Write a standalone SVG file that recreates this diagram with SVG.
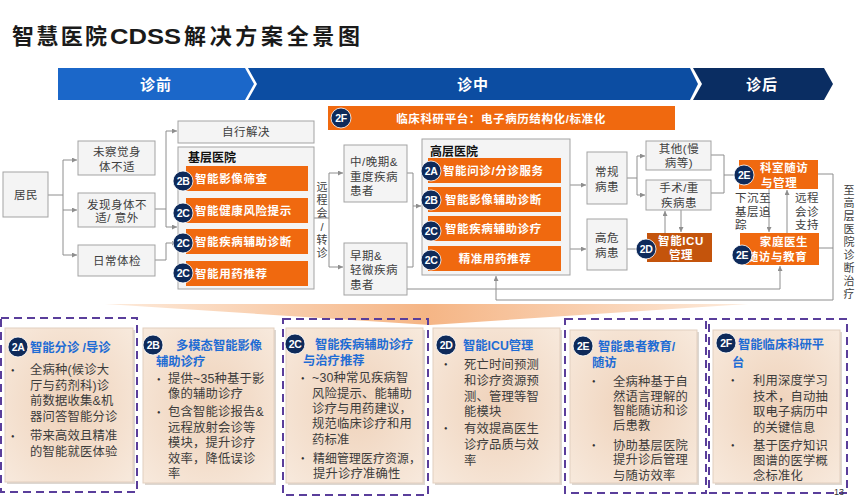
<svg xmlns="http://www.w3.org/2000/svg" width="856" height="500" viewBox="0 0 856 500">
<defs>
<style>
.t{font-family:"Liberation Sans","Noto Sans CJK SC",sans-serif;}
.box{fill:#F4F4F4;stroke:#A3A3A3;stroke-width:1;}
.bt{font-size:11.5px;fill:#404040;letter-spacing:0.5px;}
.bar{fill:#F0690F;}
.bw{font-size:11.5px;fill:#fff;font-weight:bold;letter-spacing:0.6px;}
.cir{fill:#0E2A5A;stroke:#fff;stroke-width:0.8;}
.cl{font-size:10.5px;fill:#fff;font-weight:bold;text-anchor:middle;font-family:"Liberation Sans",sans-serif;letter-spacing:-0.4px;}
.ln{fill:none;stroke:#8E8E8E;stroke-width:1;}
.ar{marker-end:url(#arr);}
.card{fill:url(#cg);stroke:#E2CFBF;stroke-width:1;}
.sh{fill:#CFC6BE;opacity:0.7;}
.ct{font-size:12.3px;fill:#3C3C3C;letter-spacing:0.2px;}
.ch{font-size:12.3px;fill:#1F6CD4;font-weight:bold;}
.bu{font-size:10px;fill:#333;}
.dash{fill:none;stroke:#5A3E9B;stroke-width:2;stroke-dasharray:8 5;}
.ph{font-size:15px;fill:#fff;font-weight:bold;text-anchor:middle;letter-spacing:1px;}
.mid{text-anchor:middle;}
.vt{font-size:11px;fill:#404040;text-anchor:middle;}
.tt{font-size:22px;font-weight:bold;fill:#1a1a1a;}
</style>
<marker id="arr" viewBox="0 0 6 6" refX="6" refY="3" markerWidth="5" markerHeight="5" orient="auto"><path d="M0,0 L6,3 L0,6 z" fill="#8E8E8E"/></marker>
<radialGradient id="cg" cx="0.5" cy="0.5" r="0.75"><stop offset="0" stop-color="#EFD2BA"/><stop offset="1" stop-color="#F8EBDF"/></radialGradient>
<linearGradient id="fg" x1="0" x2="1" y1="0" y2="0"><stop offset="0" stop-color="#FDEBDC"/><stop offset="0.5" stop-color="#F5B585"/><stop offset="1" stop-color="#FDEBDC"/></linearGradient>
</defs>
<rect x="0" y="0" width="856" height="500" fill="#fff"/>

<g id="title">
<text class="t tt" x="12" y="44" textLength="95" lengthAdjust="spacing">智慧医院</text>
<text class="t tt" x="110" y="44" font-size="23" textLength="71" lengthAdjust="spacingAndGlyphs">CDSS</text>
<text class="t tt" x="184" y="44" textLength="176" lengthAdjust="spacing">解决方案全景图</text>
</g>

<g id="phases">
<polygon points="693,68 824,68 833,84 824,100 693,100 702,84" fill="#0A2D62"/>
<polygon points="248,68 690,68 698,84 690,100 248,100 257,84" fill="#0C4DA2"/>
<polygon points="58,68 245,68 254,84 245,100 58,100" fill="#1B67C9"/>
<text class="t ph" x="156" y="90">诊前</text>
<text class="t ph" x="473" y="90">诊中</text>
<text class="t ph" x="762" y="90">诊后</text>
</g>

<g id="n2F">
<rect x="328" y="106" width="347" height="24" class="bar"/>
<circle cx="341" cy="118" r="10" class="cir"/><text class="cl" x="341" y="122">2F</text>
<text class="t bw" x="501" y="122.5" text-anchor="middle">临床科研平台：电子病历结构化/标准化</text>
</g>

<g id="connectors">
<path class="ln" d="M48,195 H63 M63,160 V255"/>
<path class="ln ar" d="M63,160 H77"/>
<path class="ln ar" d="M63,210 H77"/>
<path class="ln ar" d="M63,255 H77"/>
<path class="ln" d="M155,209 H166 M166,131 V227"/>
<path class="ln ar" d="M166,131 H177"/>
<path class="ln ar" d="M166,227 H177"/>
<path class="ln ar" d="M155,260 H166 V243 H177"/>
<path class="ln" d="M314,218 H329 M329,173 V267"/>
<path class="ln ar" d="M329,173 H343"/>
<path class="ln ar" d="M329,267 H343"/>
<path class="ln" d="M407,173 H413 V267 H407"/>
<path class="ln ar" d="M413,206 H421"/>
<path class="ln ar" d="M407,289 H780 V266"/>
<path class="ln ar" d="M570,185 H586"/>
<path class="ln ar" d="M570,249 H586"/>
<path class="ln" d="M627,178 H637 M637,156 V195"/>
<path class="ln ar" d="M637,156 H645"/>
<path class="ln ar" d="M637,195 H645"/>
<path class="ln" d="M711,155 H724 V193 H711 M724,175 H739"/>
<path class="ln" d="M627,249 H647"/>
<path class="ln ar" d="M665,233 V211"/>
<path class="ln ar" d="M681,210 V232"/>
<path class="ln ar" d="M769,189 V232"/>
<path class="ln ar" d="M787,233 V190"/>
<path class="ln ar" d="M818,174 H833 V300 H496 V276"/>
<path class="ln" d="M819,248 H833"/>
</g>

<g id="vlabels">
<text class="t vt" x="322"><tspan x="322" y="191">远</tspan><tspan x="322" y="204">程</tspan><tspan x="322" y="217">会</tspan><tspan x="322" y="231">/</tspan><tspan x="322" y="244">转</tspan><tspan x="322" y="257">诊</tspan></text>
<text class="t vt" x="849"><tspan x="849" y="194">至</tspan><tspan x="849" y="207">高</tspan><tspan x="849" y="220">层</tspan><tspan x="849" y="233">医</tspan><tspan x="849" y="246">院</tspan><tspan x="849" y="259">诊</tspan><tspan x="849" y="272">断</tspan><tspan x="849" y="285">治</tspan><tspan x="849" y="298">疗</tspan></text>
<text class="t bt" x="735" y="202">下沉至</text>
<text class="t bt" x="735" y="216">基层追</text>
<text class="t bt" x="735" y="229">踪</text>
<text class="t bt" x="795" y="202" letter-spacing="5">远程</text>
<text class="t bt" x="795" y="216" letter-spacing="5">会诊</text>
<text class="t bt" x="795" y="229" letter-spacing="5">支持</text>
</g>

<g id="jumin"><rect class="box" x="3" y="172" width="45" height="45"/><text class="t bt mid" x="26" y="199">居民</text></g>
<g id="weichajue"><rect class="box" x="78" y="141" width="77" height="34"/><text class="t bt mid" x="117" y="156">未察觉身</text><text class="t bt mid" x="117" y="171">体不适</text></g>
<g id="faxian"><rect class="box" x="78" y="193" width="77" height="34"/><text class="t bt mid" x="117" y="209">发现身体不</text><text class="t bt mid" x="117" y="222">适/ 意外</text></g>
<g id="richang"><rect class="box" x="78" y="245" width="77" height="31"/><text class="t bt mid" x="117" y="265">日常体检</text></g>
<g id="zixing"><rect class="box" x="178" y="121" width="136" height="22"/><text class="t bt mid" x="246" y="136">自行解决</text></g>

<g id="jiceng">
<rect class="box" x="178" y="147" width="136" height="142"/>
<text class="t" x="188" y="162" font-size="12" font-weight="bold" fill="#111">基层医院</text>
<rect class="bar" x="186" y="166" width="122" height="25"/>
<rect class="bar" x="186" y="198" width="122" height="25"/>
<rect class="bar" x="186" y="229" width="122" height="25"/>
<rect class="bar" x="186" y="261" width="122" height="25"/>
<text class="t bw" x="195" y="183">智能影像筛查</text>
<text class="t bw" x="195" y="215">智能健康风险提示</text>
<text class="t bw" x="195" y="246">智能疾病辅助诊断</text>
<text class="t bw" x="195" y="278">智能用药推荐</text>
<circle cx="183" cy="181" r="10" class="cir"/><text class="cl" x="183" y="185">2B</text>
<circle cx="183" cy="213" r="10" class="cir"/><text class="cl" x="183" y="217">2C</text>
<circle cx="183" cy="243" r="10" class="cir"/><text class="cl" x="183" y="247">2C</text>
<circle cx="183" cy="273" r="10" class="cir"/><text class="cl" x="183" y="277">2C</text>
</g>

<g id="zhongwan"><rect class="box" x="344" y="145" width="63" height="57"/><text class="t bt" x="350" y="166">中/晚期&amp;</text><text class="t bt" x="350" y="181">重度疾病</text><text class="t bt" x="350" y="195">患者</text></g>
<g id="zaoqi"><rect class="box" x="344" y="243" width="63" height="52"/><text class="t bt" x="350" y="260">早期&amp;</text><text class="t bt" x="350" y="274">轻微疾病</text><text class="t bt" x="350" y="289">患者</text></g>

<g id="gaoceng">
<rect class="box" x="422" y="139" width="148" height="136"/>
<text class="t" x="430" y="156" font-size="12" font-weight="bold" fill="#111">高层医院</text>
<rect class="bar" x="428" y="158" width="133" height="25"/>
<rect class="bar" x="428" y="187" width="133" height="25"/>
<rect class="bar" x="428" y="216" width="133" height="25"/>
<rect class="bar" x="428" y="246" width="133" height="25"/>
<text class="t bw" x="443" y="175">智能问诊/分诊服务</text>
<text class="t bw" x="445" y="204">智能影像辅助诊断</text>
<text class="t bw" x="445" y="233">智能疾病辅助诊疗</text>
<text class="t bw" x="495" y="263" text-anchor="middle">精准用药推荐</text>
<circle cx="431" cy="171" r="10" class="cir"/><text class="cl" x="431" y="175">2A</text>
<circle cx="431" cy="200" r="10" class="cir"/><text class="cl" x="431" y="204">2B</text>
<circle cx="431" cy="231" r="10" class="cir"/><text class="cl" x="431" y="235">2C</text>
<circle cx="431" cy="260" r="10" class="cir"/><text class="cl" x="431" y="264">2C</text>
</g>

<g id="changgui"><rect class="box" x="587" y="152" width="40" height="52"/><text class="t bt mid" x="607" y="176">常规</text><text class="t bt mid" x="607" y="191">病患</text></g>
<g id="gaowei"><rect class="box" x="587" y="219" width="40" height="51"/><text class="t bt mid" x="607" y="242">高危</text><text class="t bt mid" x="607" y="257">病患</text></g>
<g id="qita"><rect class="box" x="646" y="141" width="65" height="29"/><text class="t bt mid" x="679" y="153">其他(慢</text><text class="t bt mid" x="679" y="167">病等)</text></g>
<g id="shoushu"><rect class="box" x="646" y="180" width="65" height="30"/><text class="t bt mid" x="679" y="192">手术/重</text><text class="t bt mid" x="679" y="207">疾病患</text></g>
<g id="icu"><rect x="647" y="233" width="65" height="29" fill="#C4540C"/><text class="t bw mid" x="681" y="245">智能ICU</text><text class="t bw mid" x="681" y="259">管理</text><circle cx="646" cy="249" r="10" class="cir"/><text class="cl" x="646" y="253">2D</text></g>
<g id="keshi"><rect class="bar" x="739" y="160" width="79" height="29"/><text class="t bw" x="760" y="172">科室随访</text><text class="t bw" x="761" y="187">与管理</text><circle cx="744" cy="175" r="10" class="cir"/><text class="cl" x="744" y="179">2E</text></g>
<g id="jiating"><rect class="bar" x="740" y="233" width="79" height="32"/><text class="t bw mid" x="784" y="246">家庭医生</text><text class="t bw mid" x="777" y="261">随访与教育</text><circle cx="742" cy="255" r="10" class="cir"/><text class="cl" x="742" y="259">2E</text></g>

<g id="funnel"><polygon points="105,304 748,304 430,325" fill="url(#fg)"/></g>

<g id="dashes">
<rect class="dash" x="1" y="318" width="136" height="174"/>
<rect class="dash" x="283" y="319" width="145" height="176"/>
<rect class="dash" x="565" y="319" width="141" height="174"/>
<rect class="dash" x="709" y="319" width="138" height="174"/>
</g>

<g id="card2A">
<rect class="sh" x="7" y="330" width="128" height="154"/><rect class="card" x="5" y="328" width="128" height="154"/>
<circle cx="18" cy="347" r="10" class="cir"/><text class="cl" x="18" y="351">2A</text>
<text class="t ch" x="30" y="352">智能分诊 /导诊</text>
<text class="bu" x="11" y="374">•</text><text class="bu" x="11" y="440">•</text>
<text class="t ct" x="30" y="374">全病种(候诊大</text>
<text class="t ct" x="30" y="389.5">厅与药剂科)诊</text>
<text class="t ct" x="30" y="405">前数据收集&amp;机</text>
<text class="t ct" x="30" y="420.5">器问答智能分诊</text>
<text class="t ct" x="30" y="440">带来高效且精准</text>
<text class="t ct" x="30" y="456">的智能就医体验</text>
</g>

<g id="card2B">
<rect class="sh" x="145" y="330" width="131" height="155"/><rect class="card" x="143" y="328" width="131" height="155"/>
<circle cx="153" cy="345" r="10" class="cir"/><text class="cl" x="153" y="349">2B</text>
<text class="t ch" x="176" y="350">多模态智能影像</text>
<text class="t ch" x="156" y="366">辅助诊疗</text>
<text class="bu" x="157" y="383">•</text><text class="bu" x="157" y="416">•</text>
<text class="t ct" x="168" y="383">提供~35种基于影</text>
<text class="t ct" x="168" y="398">像的辅助诊疗</text>
<text class="t ct" x="168" y="416">包含智能诊报告&amp;</text>
<text class="t ct" x="168" y="431.5">远程放射会诊等</text>
<text class="t ct" x="168" y="447">模块，提升诊疗</text>
<text class="t ct" x="168" y="462.5">效率，降低误诊</text>
<text class="t ct" x="168" y="478">率</text>
</g>

<g id="card2C">
<rect class="sh" x="288" y="330" width="137" height="155"/><rect class="card" x="286" y="328" width="137" height="155"/>
<circle cx="295" cy="344" r="10" class="cir"/><text class="cl" x="295" y="348">2C</text>
<text class="t ch" x="315" y="349">智能疾病辅助诊疗</text>
<text class="t ch" x="303" y="365">与治疗推荐</text>
<text class="bu" x="301" y="382">•</text><text class="bu" x="301" y="462">•</text>
<text class="t ct" x="312" y="382">~30种常见疾病智</text>
<text class="t ct" x="312" y="397.5">风险提示、能辅助</text>
<text class="t ct" x="312" y="413">诊疗与用药建议，</text>
<text class="t ct" x="312" y="428">规范临床诊疗和用</text>
<text class="t ct" x="312" y="443.5">药标准</text>
<text class="t ct" x="313" y="462.5" textLength="108" lengthAdjust="spacingAndGlyphs">精细管理医疗资源，</text>
<text class="t ct" x="313" y="478">提升诊疗准确性</text>
</g>

<g id="card2D">
<rect class="sh" x="435" y="330" width="127" height="155"/><rect class="card" x="433" y="328" width="127" height="155"/>
<circle cx="446" cy="345" r="10" class="cir"/><text class="cl" x="446" y="349">2D</text>
<text class="t ch" x="463" y="350">智能ICU管理</text>
<text class="bu" x="444" y="368">•</text><text class="bu" x="444" y="432">•</text>
<text class="t ct" x="464" y="368.5">死亡时间预测</text>
<text class="t ct" x="464" y="384.5">和诊疗资源预</text>
<text class="t ct" x="464" y="400.5">测、管理等智</text>
<text class="t ct" x="464" y="415.5">能模块</text>
<text class="t ct" x="464" y="432.5">有效提高医生</text>
<text class="t ct" x="464" y="449">诊疗品质与效</text>
<text class="t ct" x="464" y="465">率</text>
</g>

<g id="card2E">
<rect class="sh" x="572" y="332" width="127" height="153"/><rect class="card" x="570" y="330" width="127" height="153"/>
<circle cx="583" cy="346" r="10" class="cir"/><text class="cl" x="583" y="350">2E</text>
<text class="t ch" x="598" y="350.5">智能患者教育/</text>
<text class="t ch" x="592" y="367">随访</text>
<text class="bu" x="592" y="385">•</text><text class="bu" x="592" y="449">•</text>
<text class="t ct" x="613" y="385.5">全病种基于自</text>
<text class="t ct" x="613" y="400.5">然语言理解的</text>
<text class="t ct" x="613" y="414.5">智能随访和诊</text>
<text class="t ct" x="613" y="429.5">后患教</text>
<text class="t ct" x="613" y="449.5">协助基层医院</text>
<text class="t ct" x="613" y="464">提升诊后管理</text>
<text class="t ct" x="613" y="479.5">与随访效率</text>
</g>

<g id="card2F">
<rect class="sh" x="715" y="332" width="127" height="153"/><rect class="card" x="713" y="330" width="127" height="153"/>
<circle cx="726" cy="343" r="10" class="cir"/><text class="cl" x="726" y="347">2F</text>
<text class="t ch" x="738" y="348.5">智能临床科研平</text>
<text class="t ch" x="732" y="366.5">台</text>
<text class="bu" x="731" y="384">•</text><text class="bu" x="731" y="449">•</text>
<text class="t ct" x="753" y="384.5">利用深度学习</text>
<text class="t ct" x="753" y="400.5">技术，自动抽</text>
<text class="t ct" x="753" y="415.5">取电子病历中</text>
<text class="t ct" x="753" y="431.5">的关键信息</text>
<text class="t ct" x="753" y="449.5">基于医疗知识</text>
<text class="t ct" x="753" y="464.5">图谱的医学概</text>
<text class="t ct" x="753" y="479.5">念标准化</text>
</g>

<g id="pagenum"><text class="t" x="834" y="495" font-size="9" fill="#333">13</text></g>
</svg>
